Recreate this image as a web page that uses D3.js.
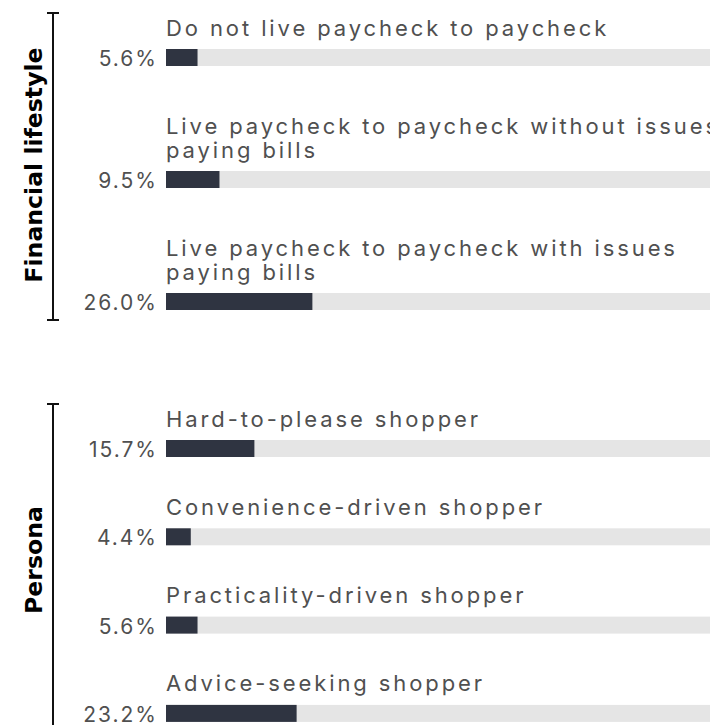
<!DOCTYPE html>
<html><head><meta charset="utf-8">
<script src="https://cdn.jsdelivr.net/npm/d3@7"></script>
<style>
  body { margin: 0; background: #fff; }
  svg { display: block; }
</style>
</head>
<body>
<svg id="chart" width="710" height="725"></svg>
<script>
// Share of respondents by group (percent)
const groupNames = ["Financial lifestyle", "Persona"];
const categories = [
  "Do not live paycheck to paycheck",
  "Live paycheck to paycheck without issues paying bills",
  "Live paycheck to paycheck with issues paying bills",
  "Hard-to-please shopper",
  "Convenience-driven shopper",
  "Practicality-driven shopper",
  "Advice-seeking shopper"
];
const categoryGroup = [
  "Financial lifestyle", "Financial lifestyle", "Financial lifestyle",
  "Persona", "Persona", "Persona", "Persona"
];
const values = [5.6, 9.5, 26.0, 15.7, 4.4, 5.6, 23.2];

const rows = categories.map((c, i) => ({ category: c, group: categoryGroup[i], value: values[i] }));

// Layout
const barX = 166, barH = 17;
const wrapWidth = 563;
const groupLayout = {
  "Financial lifestyle": { top: 13, step: 122, labelY: 165 },
  "Persona": { top: 404, step: 88.3, labelY: 560 }
};

const x = d3.scaleLinear().domain([0, 100]).range([barX, barX + 563]);

const svg = d3.select("#chart");

const labelFont = "Inter, 'DejaVu Sans', sans-serif";
const textColor = "#505050";

function wrapLines(text, maxWidth) {
  const probe = svg.append("text")
    .style("font-family", labelFont).style("font-size", "22px")
    .style("letter-spacing", "2.9px").attr("x", -9999).attr("y", -9999);
  const words = text.split(" ");
  const lines = [];
  let line = [];
  words.forEach(w => {
    const trial = line.concat(w).join(" ");
    probe.text(trial);
    if (line.length && probe.node().getComputedTextLength() > maxWidth) {
      lines.push(line.join(" "));
      line = [w];
    } else {
      line.push(w);
    }
  });
  if (line.length) lines.push(line.join(" "));
  probe.remove();
  return lines;
}

groupNames.forEach(gName => {
  const g = groupLayout[gName];
  const data = rows.filter(r => r.group === gName);
  const y = d3.scaleBand()
    .domain(data.map(d => d.category))
    .range([g.top + 36, g.top + 36 + data.length * g.step])
    .paddingInner(0).paddingOuter(0);

  const grp = svg.append("g").attr("class", "group");

  // bracket spanning the group
  const bracketTop = g.top;
  const bracketBottom = y(data[data.length - 1].category) + barH + 10;
  const bx = 53;
  grp.append("line").attr("x1", bx).attr("x2", bx).attr("y1", bracketTop).attr("y2", bracketBottom)
    .attr("stroke", "#111").attr("stroke-width", 2);
  [bracketTop, bracketBottom].forEach(yy => {
    grp.append("line").attr("x1", bx - 6).attr("x2", bx + 6).attr("y1", yy).attr("y2", yy)
      .attr("stroke", "#111").attr("stroke-width", 2);
  });

  // group title
  grp.append("text")
    .attr("transform", `translate(42,${g.labelY}) rotate(-90)`)
    .attr("text-anchor", "middle")
    .style("font-family", "'DejaVu Sans', sans-serif")
    .style("font-weight", 700)
    .style("font-size", "23.6px")
    .attr("fill", "#000")
    .text(gName);

  const row = grp.selectAll("g.row").data(data).join("g").attr("class", "row");

  // track
  row.append("rect")
    .attr("x", x(0)).attr("y", d => y(d.category))
    .attr("width", x(100) - x(0)).attr("height", barH)
    .attr("fill", "#e5e5e5");

  // value bar
  row.append("rect")
    .attr("x", x(0)).attr("y", d => y(d.category))
    .attr("width", d => x(d.value) - x(0)).attr("height", barH)
    .attr("fill", "#2f3441");

  // value label
  row.append("text")
    .attr("x", barX - 8).attr("y", d => y(d.category) + barH)
    .attr("text-anchor", "end")
    .style("font-family", labelFont)
    .style("font-size", "21px")
    .style("letter-spacing", "2px")
    .attr("fill", textColor)
    .text(d => d3.format(".1f")(d.value) + "%");

  // category label, wrapped above the bar
  row.each(function(d) {
    const lines = wrapLines(d.category, wrapWidth);
    const t = d3.select(this).append("text")
      .style("font-family", labelFont)
      .style("font-size", "22px")
      .style("letter-spacing", "2.9px")
      .attr("fill", textColor);
    const lastBase = y(d.category) - 13.5;
    lines.forEach((ln, i) => {
      t.append("tspan").attr("x", barX)
        .attr("y", lastBase - (lines.length - 1 - i) * 24)
        .text(ln);
    });
  });
});
</script>
</body></html>
